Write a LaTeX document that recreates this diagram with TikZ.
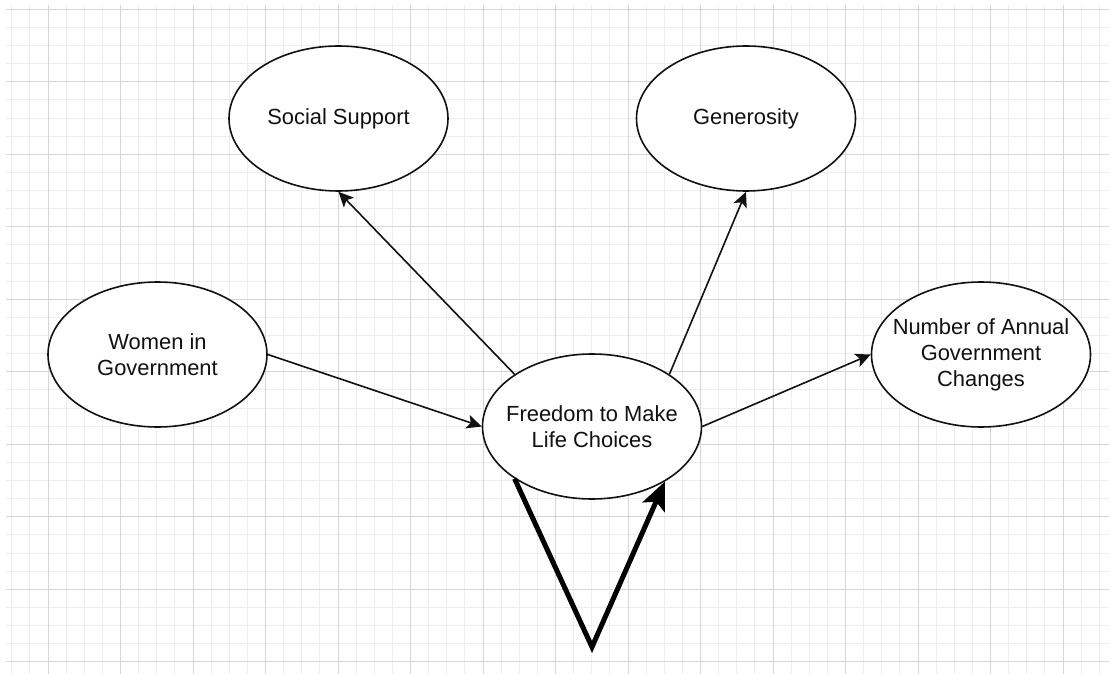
\documentclass[tikz,border=0pt]{standalone}
\usepackage{fontspec}
\setmainfont{Liberation Sans}
\usetikzlibrary{shapes.geometric,arrows.meta}
\definecolor{gridminor}{HTML}{EEEEEE}
\definecolor{gridmajor}{HTML}{D6D6D6}
\definecolor{ink}{HTML}{111111}
\tikzset{
  oval/.style={ellipse, draw=ink, fill=white, line width=1.6pt, inner sep=0pt,
    minimum width=219pt, minimum height=145pt},
  lbl/.style={align=center, font=\fontsize{21.9pt}{26pt}\selectfont, text=ink},
  conn/.style={draw=ink, line width=1.6pt, -{Stealth[length=15pt,width=14pt,inset=3.5pt]}},
  thickconn/.style={draw=black, line width=5pt, line join=miter, -{Stealth[length=28pt,width=24pt,inset=6pt]}}
}
\begin{document}
\begin{tikzpicture}[x=1pt,y=-1pt]
\useasboundingbox (0,0) rectangle (1109,674);
\fill[white] (0,0) rectangle (1109,674);
% minor grid
\foreach \k in {-2,...,58} {
  \pgfmathsetmacro\xx{48+18.125*\k}
  \draw[gridminor, line width=1pt] (\xx,5) -- (\xx,674);
}
\foreach \k in {0,...,36} {
  \pgfmathsetmacro\yy{9.3+18.125*\k}
  \draw[gridminor, line width=1pt] (6,\yy) -- (1109,\yy);
}
% major grid
\foreach \k in {0,...,14} {
  \pgfmathsetmacro\xx{48+72.5*\k}
  \draw[gridmajor, line width=1pt] (\xx,5) -- (\xx,674);
}
\foreach \k in {0,...,9} {
  \pgfmathsetmacro\yy{9.3+72.5*\k}
  \draw[gridmajor, line width=1pt] (6,\yy) -- (1109,\yy);
}
% nodes
\node[oval, label={[lbl]center:Social Support}] (s) at (338.5,118.5) {};
\node[oval, label={[lbl]center:Generosity}] (g) at (746,118.5) {};
\node[oval, label={[lbl]center:Women in\\Government}] (w) at (157.5,354.5) {};
\node[oval, label={[lbl]center:Freedom to Make\\Life Choices}] (f) at (592,426.5) {};
\node[oval, label={[lbl]center:Number of Annual\\Government\\Changes}] (n) at (981,354.5) {};
\coordinate (v) at (592,647);
% connectors
\draw[conn] (w.east) -- (f.west);
\draw[conn] (f.146.6) -- (s.south);
\draw[conn] (f.34.3) -- (g.south);
\draw[conn] (f.east) -- (n.west);
\draw[thickconn] (f.-146) -- (v) -- (f.-37);
\end{tikzpicture}
\end{document}
